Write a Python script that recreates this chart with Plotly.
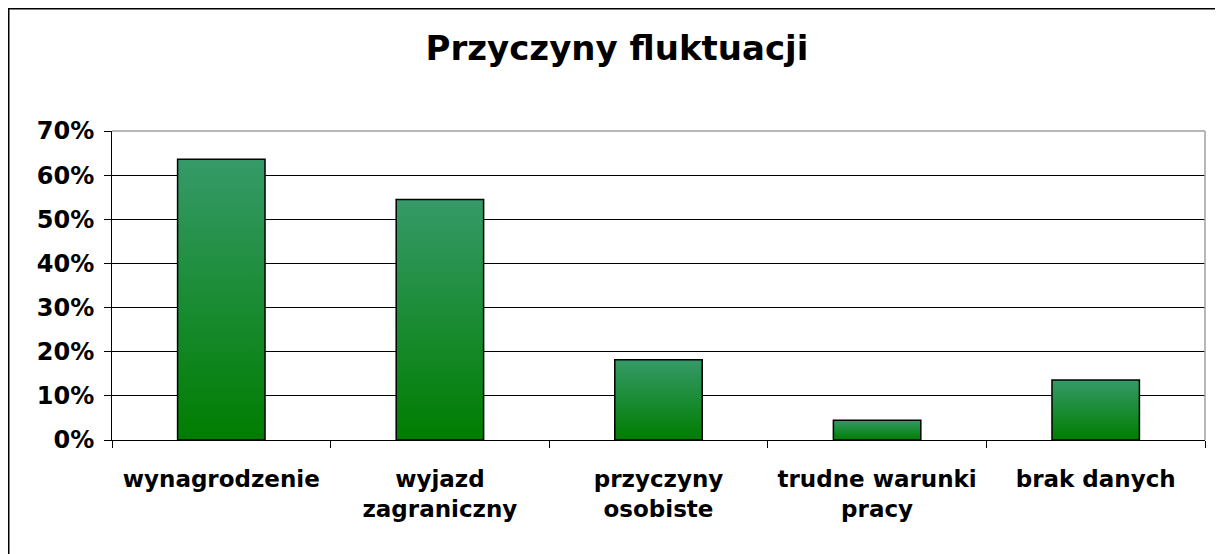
import plotly.graph_objects as go

title = "Przyczyny fluktuacji"
categories = ["wynagrodzenie", "wyjazd<br>zagraniczny", "przyczyny<br>osobiste",
              "trudne warunki<br>pracy", "brak danych"]
values = [0.636, 0.545, 0.182, 0.045, 0.136]
y_ticks = [0, 0.1, 0.2, 0.3, 0.4, 0.5, 0.6, 0.7]

BAR_W = 0.4
FONT = "DejaVu Sans"

fig = go.Figure()
for i, v in enumerate(values):
    x0, x1 = i - BAR_W / 2, i + BAR_W / 2
    fig.add_trace(go.Scatter(
        x=[x0, x0, x1, x1, x0], y=[0, v, v, 0, 0],
        mode="lines", fill="toself",
        fillgradient=dict(type="vertical",
                          colorscale=[[0, "#007d00"], [1, "#359a68"]]),
        line=dict(color="black", width=1.5),
        hoverinfo="skip", showlegend=False,
    ))

# page has an 8px body margin; figure coordinates are page coords - 8
OFF = 8
W, H = 1223, 554
ML, MR, MT, MB = 112 - OFF, 26, 131 - OFF, 122
pw, ph = W - ML - MR, H - MT - MB

def px_x(p):
    return (p - OFF - ML) / pw

def px_y(p):
    return (H - MB - (p - OFF)) / ph

fig.update_layout(
    width=W, height=H,
    margin=dict(l=ML, r=MR, t=MT, b=MB),
    paper_bgcolor="white", plot_bgcolor="white",
    title=dict(text=title, x=(617 - OFF) / W, xanchor="center",
               y=1 - (48 - OFF) / H, yanchor="middle",
               font=dict(family=FONT, size=34, color="black", weight="bold")),
    font=dict(family=FONT, color="black"),
    xaxis=dict(
        range=[-0.5, 4.5], tickvals=list(range(len(categories))), ticktext=categories,
        ticks="", showgrid=False, zeroline=False,
        showline=True, linecolor="black", linewidth=1,
        tickfont=dict(family=FONT, size=23, color="black", weight="bold"),
        ticklabelstandoff=18,
        minor=dict(tick0=-0.5, dtick=1, ticks="outside", ticklen=7,
                   tickcolor="black", tickwidth=1, showgrid=False),
    ),
    yaxis=dict(
        range=[0, 0.7], tickvals=y_ticks, tickformat=".0%",
        ticks="outside", ticklen=7, tickcolor="black", tickwidth=1,
        showgrid=True, gridcolor="black", gridwidth=1,
        zeroline=False, showline=True, linecolor="black", linewidth=1,
        tickfont=dict(family=FONT, size=24, color="black", weight="bold"),
        ticklabelstandoff=5,
    ),
    shapes=[
        dict(type="line", xref="paper", yref="paper", x0=0, x1=1, y0=1, y1=1,
             line=dict(color="#a0a0a0", width=1.5), layer="above"),
        dict(type="line", xref="paper", yref="paper", x0=1, x1=1, y0=0, y1=1,
             line=dict(color="#a0a0a0", width=1.5), layer="above"),
        dict(type="rect", xref="paper", yref="paper",
             x0=px_x(8.75), x1=px_x(1260), y0=px_y(8.75), y1=px_y(600),
             line=dict(color="black", width=1.5), fillcolor="rgba(0,0,0,0)",
             layer="above"),
    ],
)

fig.write_html("out.html")
